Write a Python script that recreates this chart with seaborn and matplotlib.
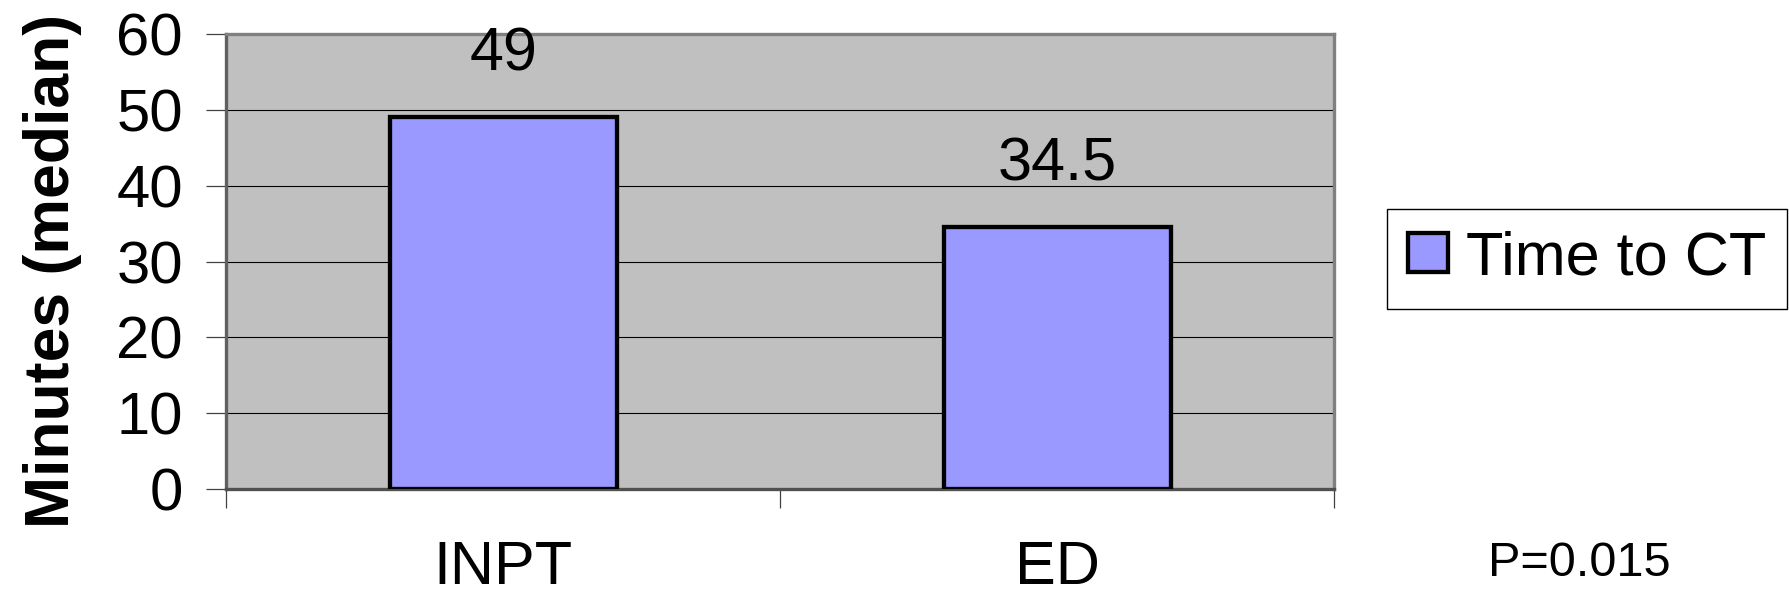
import matplotlib
matplotlib.use("Agg")
import matplotlib.pyplot as plt
from matplotlib.patches import Patch
import seaborn as sns
import pandas as pd

# Median time to CT by admission source
categories = ["INPT", "ED"]
minutes = [49, 34.5]
series_name = "Time to CT"
y_ticks = [0, 10, 20, 30, 40, 50, 60]
p_value_text = "P=0.015"

bar_color = "#9999FF"
plot_bg = "#C0C0C0"

sns.set_style("white")
plt.rcParams["font.family"] = ["Liberation Sans", "DejaVu Sans"]
plt.rcParams["text.color"] = "black"
plt.rcParams["axes.labelcolor"] = "black"
plt.rcParams["xtick.color"] = "black"
plt.rcParams["ytick.color"] = "black"

W, H = 1790, 604
fig = plt.figure(figsize=(W / 100, H / 100), dpi=100)
fig.patch.set_facecolor("white")

# plot area placed in pixel terms
left, right, top, bottom = 226.5, 1334, 34, 489
ax = fig.add_axes([left / W, 1 - bottom / H, (right - left) / W, (bottom - top) / H])
ax.set_facecolor(plot_bg)

df = pd.DataFrame({"group": categories, "minutes": minutes,
                   "series": [series_name] * len(categories)})

sns.barplot(data=df, x="group", y="minutes", hue="series", palette=[bar_color],
            dodge=False, width=0.41, saturation=1, edgecolor="black",
            linewidth=3.1, errorbar=None, legend=False, ax=ax, zorder=3)

ax.set_xlim(-0.5, len(categories) - 0.5)
ax.set_ylim(y_ticks[0], y_ticks[-1])
ax.set_yticks(y_ticks)

# horizontal gridlines
ax.set_axisbelow(True)
ax.yaxis.grid(True, color="black", linewidth=0.8)
ax.xaxis.grid(False)

for side in ["top", "right", "left", "bottom"]:
    ax.spines[side].set_visible(True)
    ax.spines[side].set_color("#808080")
    ax.spines[side].set_linewidth(2.4)
ax.spines["left"].set_color("#606060")
ax.spines["bottom"].set_color("#505050")

ax.tick_params(axis="y", which="major", left=True, length=14.4, width=0.9,
               color="#404040", pad=17, labelsize=43, labelcolor="black")

# category labels without ticks; boundary ticks as minor ticks
ax.tick_params(axis="x", which="major", bottom=True, length=0, pad=37,
               labelsize=44, labelcolor="black")
ax.set_xticks([i - 0.5 for i in range(len(categories) + 1)], minor=True)
ax.tick_params(axis="x", which="minor", bottom=True, length=13.7, width=0.9,
               color="#404040", direction="out")

ax.set_xlabel("")
ax.set_ylabel("Minutes (median)", fontsize=45, fontweight="bold", color="black")
ax.yaxis.set_label_coords((82 - left) / (right - left), 0.479)

# value labels above bars
ax.bar_label(ax.containers[0], fmt="%g", padding=24.5, fontsize=44, color="black")

# legend box to the right of the plot
handle = Patch(facecolor=bar_color, edgecolor="black", linewidth=3.1, label=series_name)
leg = ax.legend(handles=[handle], loc="upper left",
                bbox_to_anchor=(1387 / W, 1 - 209 / H), bbox_transform=fig.transFigure,
                frameon=True, fancybox=False, framealpha=1, edgecolor="black",
                fontsize=44, handlelength=0.64, handleheight=0.6,
                handletextpad=0.3, borderpad=0.35, borderaxespad=0)
leg.get_frame().set_linewidth(1.0)
for t in leg.get_texts():
    t.set_color("black")

fig.text(1579 / W, 1 - 564 / H, p_value_text, fontsize=35, ha="center", va="center",
         color="black")

fig.savefig("out.png", dpi=100, facecolor="white")
